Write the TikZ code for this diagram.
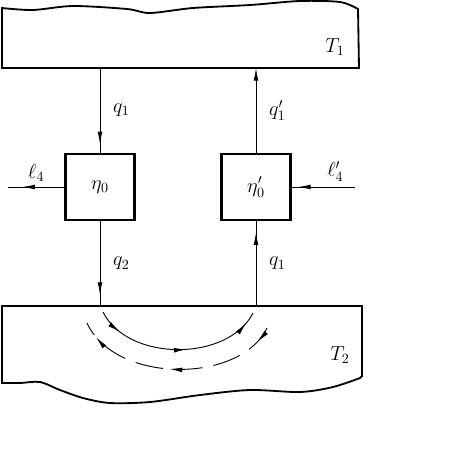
\documentclass[tikz,border=0pt]{standalone}
\usepackage{amsmath}
\usepackage{amssymb}
\usepackage{tikz}
\usetikzlibrary{arrows.meta,decorations.markings}

\tikzset{
  flowtip/.tip={Latex[length=9pt,width=3.4pt]},
  enginebox/.style={rectangle,draw,line width=1.6pt,minimum width=1.72cm,minimum height=1.65cm,font=\Large},
  res/.style={line width=1.3pt},
  flow/.style={line width=0.65pt},
  lbl/.style={font=\Large},
  arrat/.style={postaction={decorate},decoration={markings,mark=at position #1 with {\arrow{flowtip}}}},
  arcarr/.style n args={3}{postaction={decorate},decoration={markings,
      mark=at position #1 with {\arrow{flowtip}},
      mark=at position #2 with {\arrow{flowtip}},
      mark=at position #3 with {\arrow{flowtip}}}}
}

\begin{document}
\begin{tikzpicture}[x=0.025cm,y=-0.025cm]
\useasboundingbox (0,0) rectangle (452,450);
% reservoirs
\draw [res] (2,68) -- plot [smooth] coordinates {(2,8) (33,10) (73,6) (127,9) (150,13) (193,8) (250,5) (300,1) (340,2) (358,9)} -- (359,68) -- cycle;
\draw [res] (2,306) -- (362,306) -- (362,376) -- plot [smooth] coordinates {(360,378) (333,387) (300,392) (250,390) (200,395) (150,402) (110,403) (83,398) (60,390) (40,382) (20,383) (2,383)} -- cycle;
\node (T1) at (335,47) [lbl] {$T_1$};
\node (T2) at (340,355) [lbl] {$T_2$};
\coordinate (t1in)  at (100,68);
\coordinate (t1out) at (256,68);
\coordinate (t2in)  at (100,306);
\coordinate (t2out) at (256,306);
\coordinate (l4)    at (8,187);
\coordinate (l4p)   at (355,187);
% engines
\node (eng)  at (100,187) [enginebox] {$\eta_0$};
\node (engp) at (256,187) [enginebox] {$\eta'_0$};
\draw [flow,arrat=0.9]  (t1in) to node [lbl,right=2mm] {$q_1$} (eng);
\draw [flow,-flowtip]   (engp) to node [lbl,right=2mm] {$q'_1$} (t1out);
\draw [flow,arrat=0.87] (eng)  to node [lbl,right=2mm] {$q_2$} (t2in);
\draw [flow,arrat=0.87] (t2out) to node [lbl,right=2mm] {$q_1$} (engp);
\draw [flow,arrat=0.75] (eng)  to node [lbl,above] {$\ell_4$} (l4);
\draw [flow,arrat=0.9]  (l4p)  to node [lbl,above,xshift=3mm] {$\ell'_4$} (engp);
% circulation in T2
\coordinate (a1) at (103,312);
\coordinate (a2) at (253,313);
\coordinate (b1) at (267,328);
\coordinate (b2) at (87,323);
\draw [flow,arcarr={0.15}{0.55}{0.93}] (a1) .. controls (128,362) and (228,362) .. (a2);
\draw [flow,dash pattern=on 20pt off 8pt,arcarr={0.08}{0.53}{0.92}] (b1) .. controls (240,384) and (115,384) .. (b2);
\end{tikzpicture}
\end{document}
